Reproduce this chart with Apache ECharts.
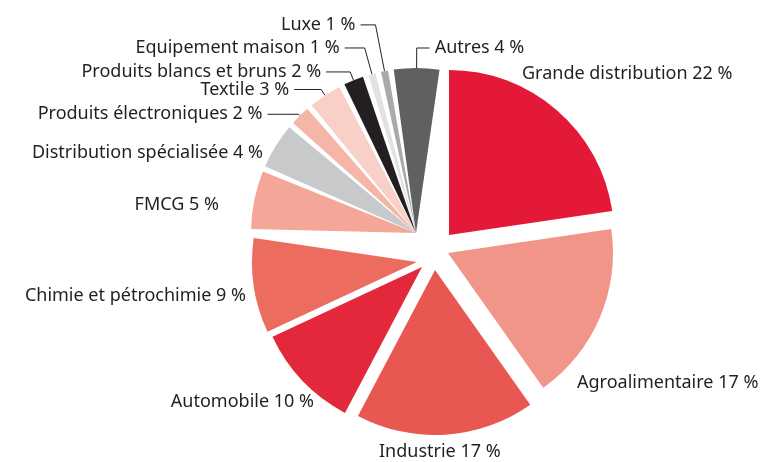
<!DOCTYPE html>
<html>
<head>
<meta charset="utf-8">
<script src="https://cdn.jsdelivr.net/npm/echarts@6/dist/echarts.min.js"></script>
<style>
  html, body { margin: 0; padding: 0; background: #fff; }
  #chart { width: 775px; height: 462px; }
</style>
</head>
<body>
<div id="chart"></div>
<script>
// chart data
var sectors = ['Grande distribution', 'Agroalimentaire', 'Industrie', 'Automobile',
  'Chimie et pétrochimie', 'FMCG', 'Distribution spécialisée', 'Produits électroniques',
  'Textile', 'Produits blancs et bruns', 'Equipement maison', 'Luxe', 'Autres']
var shares = [22, 17, 17, 10, 9, 5, 4, 2, 3, 2, 1, 1, 4]
var smallSectors = ['FMCG', 'Distribution spécialisée', 'Produits électroniques', 'Textile',
  'Produits blancs et bruns', 'Equipement maison', 'Luxe', 'Autres']

// styles
var colors = ['#e31937', '#f09587', '#e85752', '#e3283c', '#ec6c60', '#f4a698', '#c8c9cb',
  '#f5b6a8', '#f9d0c7', '#231f20', '#e1e2e4', '#a7a9ac', '#5f6062']
var bigCenters = [[449, 235], [448, 253], [435, 270], [422, 267], [417, 262]]
var smallCenter = [416, 233]
var radius = 165
// labels without a leader line: [x, y, align]
var labelSpots = {
  'Grande distribution': [522, 74, 'left'],
  'Agroalimentaire': [577, 383, 'left'],
  'Industrie': [379, 452, 'left'],
  'Automobile': [314, 402, 'right'],
  'Chimie et pétrochimie': [246, 296, 'right'],
  'FMCG': [219, 205, 'right'],
  'Distribution spécialisée': [263, 153, 'right']
}
// labels with an elbow line: [length, length2, text lift]
var leaders = {
  'Produits électroniques': [2, 31, 9],
  'Textile': [7, 27, 8],
  'Produits blancs et bruns': [9, 24, 13],
  'Equipement maison': [27, 20, 14],
  'Luxe': [47, 15, 14],
  'Autres': [20, 13, 14]
}

var textStyle = {
  fontFamily: 'Noto Sans',
  fontSize: 18,
  color: '#231f20'
}

var seriesNames = []

function makeItem(i, visible) {
  var name = sectors[i]
  var lead = leaders[name]
  return {
    name: name,
    value: shares[i],
    itemStyle: { color: visible ? colors[i] : 'rgba(0,0,0,0)' },
    label: { show: visible, padding: lead ? [0, 0, lead[2], 0] : 0 },
    labelLine: {
      show: visible && !!lead,
      length: lead ? lead[0] : 10,
      length2: lead ? lead[1] : 10
    }
  }
}

function placeLabel(params) {
  var names = seriesNames[params.seriesIndex] || []
  var spot = labelSpots[names[params.dataIndex]]
  if (!spot) {
    return {}
  }
  return { x: spot[0], y: spot[1], align: spot[2], verticalAlign: 'middle' }
}

function baseSeries(center) {
  return {
    type: 'pie',
    center: center,
    radius: [0, radius],
    clockwise: true,
    avoidLabelOverlap: false,
    silent: true,
    emphasis: { disabled: true },
    label: Object.assign({
      position: 'outside',
      formatter: '{b} {c} %',
      distanceToLabelLine: 5
    }, textStyle),
    labelLine: { smooth: false, lineStyle: { color: '#231f20', width: 1 } },
    labelLayout: placeLabel
  }
}

var series = []
for (var k = 0; k < bigCenters.length; k++) {
  var s = baseSeries(bigCenters[k])
  s.startAngle = 90
  s.data = sectors.map(function (n, i) { return makeItem(i, i === k) })
  series.push(s)
  seriesNames.push(sectors)
}
var small = baseSeries(smallCenter)
small.startAngle = 179.6
small.endAngle = 80.8
small.padAngle = 2
small.data = smallSectors.map(function (n) { return makeItem(sectors.indexOf(n), true) })
series.push(small)
seriesNames.push(smallSectors)

var chart = echarts.init(document.getElementById('chart'), null, { renderer: 'canvas' })
chart.setOption({
  backgroundColor: '#ffffff',
  animation: false,
  tooltip: { show: false },
  series: series
})
</script>
</body>
</html>
